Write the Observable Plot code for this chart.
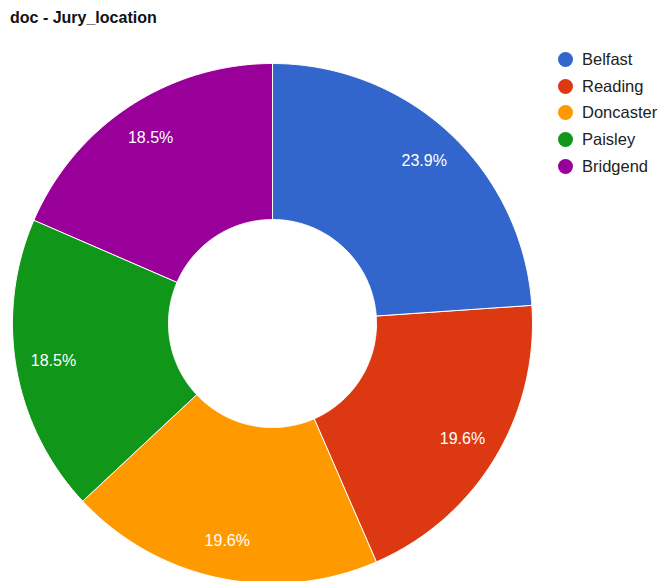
<!DOCTYPE html>
<html>
<head>
<meta charset="utf-8">
<script src="https://cdn.jsdelivr.net/npm/d3@7"></script>
<script src="https://cdn.jsdelivr.net/npm/@observablehq/plot@0.6"></script>
<style>
  html, body { margin: 0; padding: 0; background: #fff; }
  #wrap { position: relative; width: 659px; height: 581px; overflow: hidden; font-family: "Liberation Sans", Arial, sans-serif; }
  #title { position: absolute; left: 10px; top: 9px; font-size: 16px; font-weight: bold; color: #111; }
  #legend { position: absolute; left: 558px; top: 46px; font-size: 16.5px; color: #222; }
  .row { display: flex; align-items: center; height: 26.7px; }
  .sw { width: 15px; height: 15px; border-radius: 50%; margin-right: 9px; }
  #chart { position: absolute; left: 0; top: 0; }
</style>
</head>
<body>
<div id="wrap">
  <div id="chart"></div>
  <div id="title">doc - Jury_location</div>
  <div id="legend"></div>
</div>
<script>
const categories = ["Belfast", "Reading", "Doncaster", "Paisley", "Bridgend"];
const counts = [22, 18, 18, 17, 17];
const colors = ["#3366cc", "#dc3912", "#ff9900", "#109618", "#990099"];

const W = 659, H = 581;
const cx = 272, cy = 323, R = 260;
const innerFrac = 0.4;
const labelFrac = 0.855;

const data = categories.map((name, i) => ({name, value: counts[i]}));
const pie = d3.pie().value(d => d.value).sort(null)(data);
const total = d3.sum(counts);

// polygon points in unit-radius coordinates
const pts = [];
const N = 120;
pie.forEach(p => {
  const a0 = p.startAngle, a1 = p.endAngle;
  for (let k = 0; k <= N; k++) {
    const a = a0 + (a1 - a0) * k / N;
    pts.push({name: p.data.name, x: Math.sin(a), y: Math.cos(a)});
  }
  for (let k = N; k >= 0; k--) {
    const a = a0 + (a1 - a0) * k / N;
    pts.push({name: p.data.name, x: innerFrac * Math.sin(a), y: innerFrac * Math.cos(a)});
  }
});
const labels = pie.map(p => {
  const a = (p.startAngle + p.endAngle) / 2;
  return {name: p.data.name, x: labelFrac * Math.sin(a), y: labelFrac * Math.cos(a),
          text: (p.data.value / total * 100).toFixed(1) + "%"};
});

const chart = Plot.plot({
  width: W, height: H,
  margin: 0,
  x: {domain: [-cx / R, (W - cx) / R], axis: null},
  y: {domain: [-(H - cy) / R, cy / R], axis: null},
  color: {domain: categories, range: colors},
  style: {fontFamily: "'Liberation Sans', Arial, sans-serif", background: "transparent"},
  marks: [
    Plot.line(pts, {x: "x", y: "y", z: "name", fill: "name", stroke: "#fff", strokeWidth: 1, strokeOpacity: 1, curve: "linear-closed"}),
    Plot.text(labels, {x: "x", y: "y", text: "text", fill: "#fff", fontSize: 16})
  ]
});
document.getElementById("chart").appendChild(chart);

const legend = document.getElementById("legend");
categories.forEach((c, i) => {
  const row = document.createElement("div");
  row.className = "row";
  row.innerHTML = `<span class="sw" style="background:${colors[i]}"></span><span>${c}</span>`;
  legend.appendChild(row);
});
</script>
</body>
</html>
